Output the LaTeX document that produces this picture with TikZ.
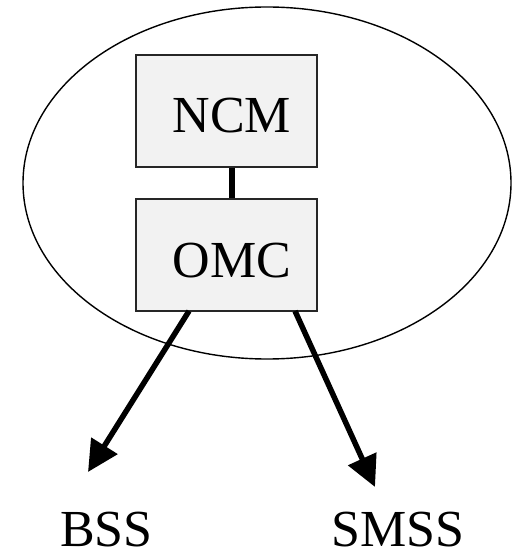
\documentclass[tikz,border=0pt]{standalone}
\usepackage{fontspec}
\setmainfont{Liberation Serif}
\usetikzlibrary{arrows.meta}
\definecolor{boxfill}{HTML}{F2F2F2}
\begin{document}
\begin{tikzpicture}[x=1pt,y=-1pt,
  boxst/.style={draw=black!85,line width=1.5pt,fill=boxfill,minimum width=181pt,minimum height=112pt,inner sep=0pt},
  lbl/.style={font=\fontsize{52}{60}\selectfont,inner sep=0pt,anchor=base,text depth=0pt},
  link/.style={line width=6.5pt},
  arr/.style={line width=5.5pt,-{Triangle[length=31pt,width=30pt]}}]
\useasboundingbox (0,0) rectangle (511,553);
\draw[line width=1.4pt] (267,183) ellipse [x radius=244, y radius=176];
\node[boxst] (ncm) at (226.5,111) {};
\node[boxst] (omc) at (226.5,255) {};
\node[lbl] (ncmt) at (232,133) {NCM};
\node[lbl] (omct) at (232,277) {OMC};
\draw[link] (ncm.south -| ncmt) -- (omc.north -| ncmt);
\coordinate (s1) at (189,311);
\coordinate (s2) at (295,311);
\coordinate (t1) at (88,472);
\coordinate (t2) at (375,487);
\draw[arr] (s1) -- (t1);
\draw[arr] (s2) -- (t2);
\node[lbl] (bss) at (106.5,546) {BSS};
\node[lbl] (smss) at (398,546) {SMSS};
\end{tikzpicture}
\end{document}
